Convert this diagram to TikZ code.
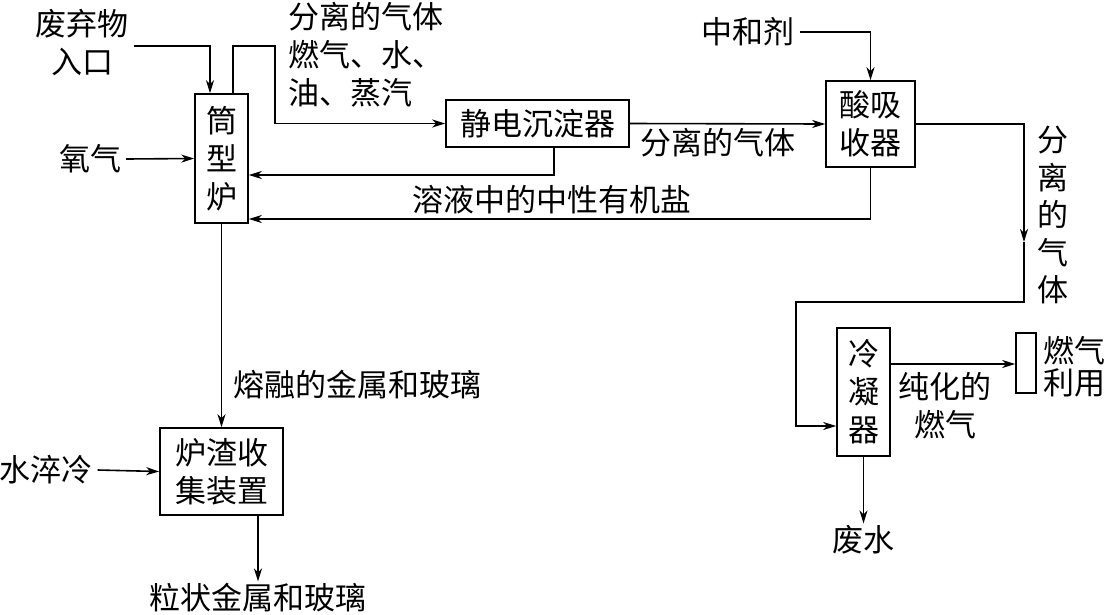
\documentclass[tikz,border=0pt]{standalone}
\usepackage{fontspec}
\setmainfont{Noto Sans CJK SC}
\usetikzlibrary{arrows.meta, positioning, calc}

\begin{document}
\begin{tikzpicture}[
        x=1pt, y=-1pt,
        font=\fontsize{31}{38}\selectfont,
        box/.style={rectangle, draw, line width=1.6pt, inner sep=0pt, align=center},
        txt/.style={inner xsep=5pt, inner ysep=2pt, align=center},
        arrow/.style={-{Stealth[length=13pt, width=8pt, inset=4pt]}, line width=1.6pt}
        ]
    \useasboundingbox (0,0) rectangle (1106,614);

    \node (furnace) [box, minimum width=53pt, minimum height=129pt] at (221.5,158.5) {筒\\型\\炉};
    \node (esp) [box, minimum width=183pt, minimum height=47pt] at (537.5,123.5) {静电沉淀器};
    \node (acid) [box, minimum width=89pt, minimum height=86pt] at (870.5,124) {酸吸\\收器};
    \node (cond) [box, minimum width=53pt, minimum height=128pt] at (863.5,392) {冷\\凝\\器};
    \node (use) [box, minimum width=20pt, minimum height=60pt] at (1026,363) {};
    \node (slag) [box, minimum width=123pt, minimum height=87pt] at (221.5,471.5) {炉渣收\\集装置};

    \node (waste) [txt] at (82,42) {废弃物\\入口};
    \node (oxy) [txt] at (90,159) {氧气};
    \node (gasmix) [txt, anchor=west, align=left, inner xsep=0pt] at (288,55) {分离的气体\\燃气、水、\\油、蒸汽};
    \node (neut) [txt] at (748,32) {中和剂};
    \node (sep1) [txt] at (718,143) {分离的气体};
    \node (salt) [txt] at (552,200) {溶液中的中性有机盐};
    \node (sep2) [txt, font=\fontsize{31}{37.5}\selectfont] at (1053,215) {分\\离\\的\\气\\体};
    \node (pure) [txt] at (945,406) {纯化的\\燃气};
    \node (fuel) [txt, anchor=west, align=left, inner xsep=0pt, font=\fontsize{31}{32}\selectfont] at (1043,367) {燃气\\利用};
    \node (wastew) [txt] at (863.5,540) {废水};
    \node (melt) [txt, anchor=west, inner xsep=0pt] at (233,385) {熔融的金属和玻璃};
    \node (quench) [txt] at (46,470) {水淬冷};
    \node (gran) [txt] at (258,598) {粒状金属和玻璃};

    \coordinate (bend) at (275,46);
    \coordinate (midA) at (1024,242);
    \coordinate (turnB) at (796,302);

    \draw [arrow] ([yshift=-4pt]waste.east) -| ([xshift=-11.5pt]furnace.north);
    \draw [arrow] ([xshift=11.5pt]furnace.north) |- (bend) |- (esp.west);
    \draw [arrow] (oxy.east) -- (furnace.west);
    \draw [arrow] (esp.east) -- (acid.west);
    \draw [arrow] ([xshift=16.5pt]esp.south) |- ([yshift=-16.5pt]furnace.east);
    \draw [arrow] (acid.south) |- ([yshift=-60.5pt]furnace.east);
    \draw [arrow] (neut.east) -| (acid.north);
    \draw [arrow] (acid.east) -| (midA);
    \draw [arrow] (midA) |- (turnB) |- ([yshift=-34pt]cond.west);
    \draw [arrow] ([yshift=28pt]cond.east) -- ([yshift=28pt]cond.east -| use.west);
    \draw [arrow] (cond.south) -- (wastew.north);
    \draw [arrow] (furnace.south) -- (slag.north);
    \draw [arrow] (quench.east) -- (slag.west);
    \draw [arrow] (slag.south -| gran.north) -- (gran.north);
\end{tikzpicture}
\end{document}
